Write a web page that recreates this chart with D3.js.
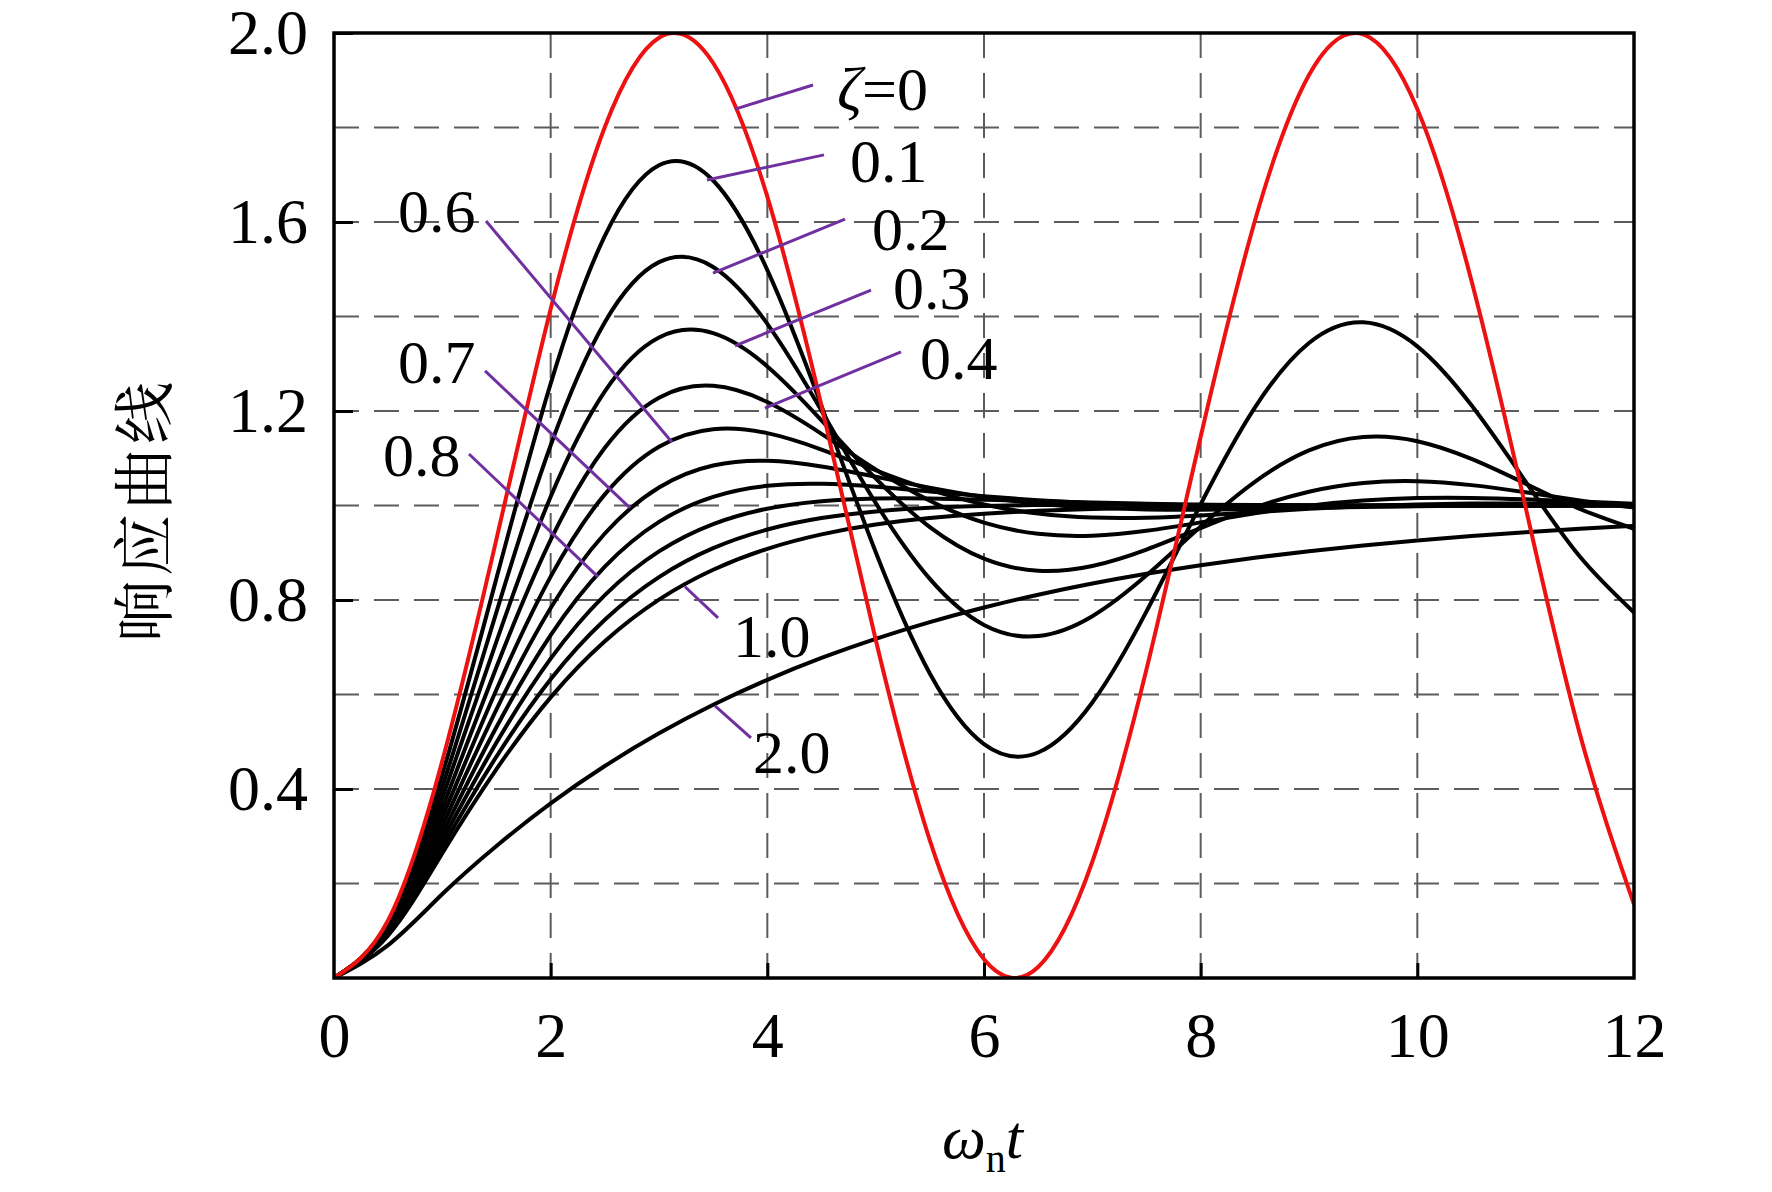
<!DOCTYPE html>
<html>
<head>
<meta charset="utf-8">
<script src="https://cdn.jsdelivr.net/npm/d3@7/dist/d3.min.js"></script>
<style>
  html, body { margin: 0; padding: 0; background: #fff; }
  svg { display: block; }
</style>
</head>
<body>
<svg id="chart" width="1772" height="1192"></svg>
<script>
// ---- data ----
const omegaT = [0,0.5,1,1.5,2,2.5,3,3.5,4,4.5,5,5.5,6,6.5,7,7.5,8,8.5,9,9.5,10,10.5,11,11.5,12];

const zeta0  = [0,0.1224,0.4597,0.9293,1.4161,1.8011,1.9900,1.9365,1.6536,1.2108,0.7163,0.2913,0.0398,0.0234,0.2461,0.6534,1.1455,1.6020,1.9111,1.9972,1.8391,1.4755,0.9956,0.5167,0.1561];
const zeta01 = [0,0.1184,0.4310,0.8464,1.2581,1.5706,1.7201,1.6878,1.4983,1.2108,0.9015,0.6444,0.4949,0.4772,0.5830,0.7758,1.0026,1.2072,1.3440,1.3877,1.3368,1.2120,1.0503,0.8919,0.7737];
const zeta02 = [0,0.1147,0.4050,0.7748,1.1275,1.3880,1.5151,1.5049,1.3845,1.2007,1.0055,0.8447,0.7473,0.7237,0.7657,0.8522,0.9556,1.0502,1.1166,1.1450,1.1361,1.0986,1.0460,0.9928,0.9508];
const zeta03 = [0,0.1111,0.3814,0.7125,1.0186,1.2415,1.3555,1.3647,1.2944,1.1801,1.0573,0.9542,0.8875,0.8619,0.8721,0.9068,0.9522,0.9959,1.0292,1.0476,1.0513,1.0431,1.0279,1.0108,0.9958];
const zeta04 = [0,0.1077,0.3599,0.6582,0.9271,1.1221,1.2281,1.2532,1.2189,1.1517,1.0761,1.0100,0.9637,0.9400,0.9362,0.9465,0.9643,0.9833,0.9995,1.0104,1.0157,1.0160,1.0130,1.0084,1.0036];
const zeta05 = [0,0.1044,0.3403,0.6105,0.8494,1.0235,1.1244,1.1616,1.1531,1.1185,1.0746,1.0336,1.0023,0.9829,0.9744,0.9741,0.9790,0.9860,0.9929,0.9985,1.0022,1.0040,1.0043,1.0037,1.0026];
const zeta06 = [0,0.1013,0.3224,0.5685,0.7830,0.9407,1.0381,1.0846,1.0945,1.0826,1.0608,1.0377,1.0180,1.0039,0.9955,0.9917,0.9911,0.9924,0.9946,0.9967,0.9985,0.9998,1.0005,1.0008,1.0008];
const zeta07 = [0,0.0983,0.3059,0.5313,0.7257,0.8706,0.9653,1.0184,1.0416,1.0458,1.0398,1.0298,1.0196,1.0111,1.0049,1.0010,0.9988,0.9980,0.9979,0.9983,0.9987,0.9992,0.9996,0.9998,1.0000];
const zeta08 = [0,0.0955,0.2909,0.4982,0.6759,0.8104,0.9028,0.9607,0.9933,1.0091,1.0147,1.0147,1.0122,1.0091,1.0061,1.0038,1.0021,1.0010,1.0003,0.9999,0.9998,0.9998,0.9998,0.9998,0.9999];
const zeta09 = [0,0.0928,0.2770,0.4687,0.6324,0.7583,0.8485,0.9097,0.9491,0.9734,0.9875,0.9953,0.9992,1.0009,1.0015,1.0015,1.0012,1.0009,1.0007,1.0004,1.0003,1.0002,1.0001,1.0001,1.0000];
const zeta10 = [0,0.0902,0.2642,0.4422,0.5940,0.7127,0.8009,0.8641,0.9084,0.9389,0.9596,0.9734,0.9826,0.9887,0.9927,0.9953,0.9970,0.9981,0.9988,0.9992,0.9995,0.9997,0.9998,0.9999,0.9999];
const zeta20 = [0,0.0697,0.1777,0.2795,0.3696,0.4486,0.5178,0.5782,0.6311,0.6774,0.7178,0.7532,0.7841,0.8112,0.8349,0.8556,0.8737,0.8895,0.9034,0.9155,0.9261,0.9354,0.9435,0.9506,0.9568];

const seriesNames  = ["0","0.1","0.2","0.3","0.4","0.5","0.6","0.7","0.8","0.9","1.0","2.0"];
const seriesValues = [zeta0,zeta01,zeta02,zeta03,zeta04,zeta05,zeta06,zeta07,zeta08,zeta09,zeta10,zeta20];

const xTickLabels = [0,2,4,6,8,10,12];
const xTickMarks  = [2,4,6,8,10];
const yTickLabels = [0.4,0.8,1.2,1.6,2.0];
const yGrid       = [0.2,0.4,0.6,0.8,1.0,1.2,1.4,1.6,1.8];

// annotation labels: text, label anchor (x,y baseline), leader from (x1,y1) to (x2,y2), data units
const labelText = ["=0","0.1","0.2","0.3","0.4","0.6","0.7","0.8","1.0","2.0"];
const labelPos  = [[4.643,1.837],[4.763,1.685],[4.966,1.541],[5.160,1.416],[5.409,1.268],[0.591,1.579],[0.591,1.259],[0.452,1.062],[3.683,0.679],[3.868,0.434]];
const leaderFrom = [[3.702,1.839],[3.443,1.689],[3.498,1.492],[3.702,1.338],[3.978,1.206],[3.120,1.134],[2.732,0.995],[2.437,0.849],[3.240,0.828],[3.517,0.576]];
const leaderTo   = [[4.422,1.890],[4.523,1.742],[4.717,1.606],[4.957,1.456],[5.234,1.325],[1.403,1.602],[1.394,1.285],[1.246,1.109],[3.545,0.762],[3.849,0.508]];

// ---- layout ----
const L = 334, R = 1634, T = 33, B = 978;
const serif = "'Liberation Serif','Times New Roman',serif";
const svg = d3.select("#chart");
const x = d3.scaleLinear().domain([0,12]).range([L,R]);
const y = d3.scaleLinear().domain([0,2]).range([B,T]);

svg.append("defs").append("clipPath").attr("id","plotclip")
  .append("rect").attr("x",L).attr("y",T).attr("width",R-L).attr("height",B-T);

// grid
const grid = svg.append("g").attr("stroke","#5c5c5c").attr("stroke-width",2).attr("stroke-dasharray","25,15");
grid.selectAll(".vg").data(xTickMarks).join("line")
  .attr("x1",d=>x(d)).attr("x2",d=>x(d)).attr("y1",T).attr("y2",B);
grid.selectAll(".hg").data(yGrid).join("line")
  .attr("x1",L).attr("x2",R).attr("y1",d=>y(d)).attr("y2",d=>y(d));

// curves
const line = d3.line().curve(d3.curveNatural).x((d,i)=>x(omegaT[i])).y(d=>y(d));
const curves = svg.append("g").attr("clip-path","url(#plotclip)").attr("fill","none");
curves.selectAll("path.blk").data(seriesValues.slice(1)).join("path")
  .attr("class","blk").attr("d",line).attr("stroke","#000").attr("stroke-width",4);
curves.append("path").datum(seriesValues[0]).attr("d",line)
  .attr("stroke","#ee1111").attr("stroke-width",4);

// frame
svg.append("rect").attr("x",L).attr("y",T).attr("width",R-L).attr("height",B-T)
  .attr("fill","none").attr("stroke","#000").attr("stroke-width",3.5);

// axes
const xAxis = svg.append("g").attr("transform",`translate(0,${B})`)
  .call(d3.axisBottom(x).tickValues(xTickLabels).tickSize(-15).tickPadding(34).tickFormat(d3.format("d")));
xAxis.select(".domain").remove();
xAxis.selectAll(".tick line").attr("stroke-width",3).attr("opacity",(d)=>xTickMarks.includes(d)?1:0);
xAxis.selectAll("text").attr("font-family",serif).attr("font-size",64).attr("fill","#000");

const yAxis = svg.append("g").attr("transform",`translate(${L},0)`)
  .call(d3.axisLeft(y).tickValues(yTickLabels).tickSize(-19).tickPadding(26).tickFormat(d3.format(".1f")));
yAxis.select(".domain").remove();
yAxis.selectAll(".tick line").attr("stroke-width",3);
yAxis.selectAll("text").attr("font-family",serif).attr("font-size",64).attr("fill","#000");

// leader lines
svg.append("g").selectAll("line").data(leaderFrom).join("line")
  .attr("x1",d=>x(d[0])).attr("y1",d=>y(d[1]))
  .attr("x2",(d,i)=>x(leaderTo[i][0])).attr("y2",(d,i)=>y(leaderTo[i][1]))
  .attr("stroke","#7030a0").attr("stroke-width",3);

// labels
const lbl = svg.append("g").attr("font-family",serif).attr("font-size",62).attr("fill","#000");
labelText.forEach((t,i)=>{
  const tx = lbl.append("text").attr("x",x(labelPos[i][0])).attr("y",y(labelPos[i][1]));
  if (i===0) {
    tx.append("tspan").attr("font-style","italic").text("ζ");
    tx.append("tspan").text(t);
  } else tx.text(t);
});

// axis titles
const xt = svg.append("text").attr("x",942).attr("y",1158).attr("font-family",serif).attr("font-size",62).attr("fill","#000");
xt.append("tspan").attr("font-style","italic").text("ω");
xt.append("tspan").attr("font-size",40).attr("dy",14).text("n");
xt.append("tspan").attr("font-style","italic").attr("dy",-14).text("t");

svg.append("text").attr("transform","translate(140,510) rotate(-90)")
  .attr("text-anchor","middle").attr("dominant-baseline","central")
  .attr("font-family","'Noto Serif CJK SC','Noto Sans CJK SC',sans-serif").attr("font-size",62)
  .attr("letter-spacing",4).attr("fill","#000").text("响应曲线");
</script>
</body>
</html>
